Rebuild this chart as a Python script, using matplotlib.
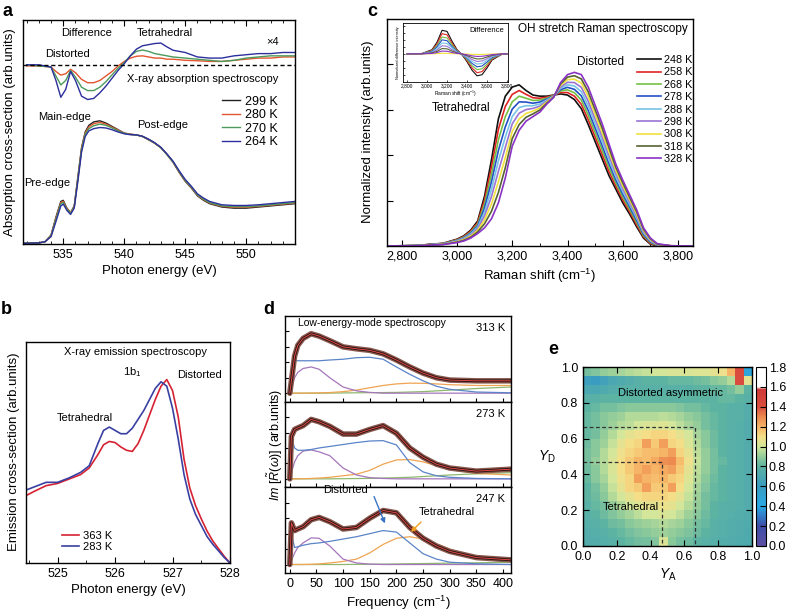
import numpy as np
import matplotlib
matplotlib.use('Agg')
import matplotlib.pyplot as plt
from matplotlib.colors import LinearSegmentedColormap
from matplotlib.ticker import MultipleLocator

plt.rcParams['font.family'] = ['Liberation Sans', 'DejaVu Sans']
plt.rcParams['font.size'] = 9
plt.rcParams['mathtext.fontset'] = 'custom'
plt.rcParams['mathtext.rm'] = 'Liberation Sans'
plt.rcParams['mathtext.it'] = 'Liberation Sans:italic'
plt.rcParams['axes.linewidth'] = 1.0

# ---- panel a: X-ray absorption ----
xas_energy = [531.7, 533.0, 533.5, 534.0, 534.4, 534.8, 535.0, 535.3, 535.6, 535.9,
              536.2, 536.5, 536.8, 537.1, 537.5, 538.0, 538.5,
              539.0, 539.5, 540.0, 540.5, 541.0, 541.5, 542.0, 542.5, 543.0, 543.5, 544.0, 544.5,
              545.0, 545.5, 546.0, 546.5, 547.0,
              548.0, 549.0, 550.0, 551.0, 552.0, 553.0, 554.0]
xas_299 = [0.003, 0.005, 0.01, 0.04, 0.12, 0.19, 0.195, 0.16, 0.14, 0.17,
           0.30, 0.43, 0.50, 0.53, 0.545, 0.55, 0.54,
           0.525, 0.51, 0.495, 0.49, 0.487, 0.48, 0.465, 0.45, 0.43, 0.40, 0.365, 0.32,
           0.28, 0.25, 0.215, 0.195, 0.18,
           0.165, 0.16, 0.16, 0.165, 0.17, 0.175, 0.18]
xas_280 = [0.003, 0.005, 0.01, 0.038, 0.115, 0.185, 0.19, 0.158, 0.14, 0.168,
           0.295, 0.425, 0.495, 0.523, 0.537, 0.543, 0.535,
           0.522, 0.508, 0.495, 0.49, 0.487, 0.48, 0.466, 0.45, 0.43, 0.40, 0.366, 0.322,
           0.282, 0.252, 0.218, 0.198, 0.183,
           0.168, 0.164, 0.164, 0.168, 0.173, 0.178, 0.183]
xas_270 = [0.003, 0.005, 0.01, 0.036, 0.11, 0.18, 0.185, 0.155, 0.138, 0.165,
           0.29, 0.42, 0.49, 0.515, 0.528, 0.535, 0.53,
           0.518, 0.505, 0.494, 0.489, 0.487, 0.48, 0.467, 0.451, 0.43, 0.40, 0.367, 0.324,
           0.284, 0.254, 0.22, 0.2, 0.185,
           0.17, 0.167, 0.167, 0.17, 0.175, 0.18, 0.185]
xas_264 = [0.003, 0.005, 0.01, 0.033, 0.1, 0.17, 0.178, 0.15, 0.132, 0.16,
           0.28, 0.41, 0.48, 0.505, 0.515, 0.52, 0.518,
           0.51, 0.50, 0.492, 0.488, 0.487, 0.481, 0.468, 0.452, 0.432, 0.402, 0.37, 0.327,
           0.288, 0.258, 0.224, 0.205, 0.19,
           0.175, 0.172, 0.172, 0.175, 0.18, 0.185, 0.19]

diff_energy = [532, 533, 534, 534.4, 534.8, 535.2, 535.6, 536.0,
               536.5, 537.0, 537.5, 538.0, 538.5, 539.0, 539.5,
               540.0, 540.5, 541.0, 541.5, 542.0, 542.5, 543.0, 543.5, 544.0,
               545, 546, 547, 548, 549, 550, 551, 552, 553, 554]
diff_280 = [-0.005, -0.005, -0.01, -0.03, -0.046, -0.04, -0.02, -0.035,
            -0.065, -0.08, -0.08, -0.07, -0.05, -0.03, -0.005,
            0.015, 0.03, 0.038, 0.04, 0.035, 0.03, 0.03, 0.025, 0.025,
            0.02, 0.018, 0.015, 0.015, 0.02, 0.025, 0.03, 0.03, 0.035, 0.035]
diff_270 = [0, -0.005, -0.01, -0.05, -0.09, -0.07, -0.025, -0.055,
            -0.1, -0.115, -0.115, -0.1, -0.075, -0.045, -0.015,
            0.01, 0.04, 0.06, 0.066, 0.06, 0.05, 0.045, 0.04, 0.035,
            0.03, 0.025, 0.02, 0.015, 0.02, 0.03, 0.035, 0.04, 0.04, 0.04]
diff_264 = [0, 0, -0.01, -0.07, -0.145, -0.11, -0.03, -0.07,
            -0.14, -0.155, -0.15, -0.125, -0.095, -0.06, -0.025,
            0.005, 0.04, 0.07, 0.085, 0.09, 0.095, 0.097, 0.08, 0.065,
            0.055, 0.035, 0.03, 0.03, 0.04, 0.045, 0.05, 0.05, 0.055, 0.055]
xas_labels = ['299 K', '280 K', '270 K', '264 K']
xas_colors = ['#222222', '#e2552e', '#4b9a5c', '#2c2f9c']

# ---- panel b: X-ray emission ----
xes_energy = [524.45, 524.6, 524.8, 525.0, 525.2, 525.4, 525.55, 525.7, 525.8, 525.9,
              526.0, 526.1, 526.2, 526.3, 526.4, 526.5, 526.6, 526.7, 526.8, 526.9,
              527.0, 527.1, 527.2, 527.3, 527.4, 527.5, 527.6, 527.7, 527.8, 527.9, 528.0]
xes_283 = [0.33, 0.345, 0.365, 0.365, 0.385, 0.41, 0.44, 0.54, 0.60, 0.615,
           0.60, 0.585, 0.585, 0.61, 0.65, 0.69, 0.74, 0.79, 0.82, 0.80,
           0.70, 0.56, 0.40, 0.29, 0.22, 0.17, 0.12, 0.085, 0.055, 0.025, 0.0]
xes_363 = [0.305, 0.325, 0.35, 0.36, 0.38, 0.40, 0.43, 0.49, 0.535, 0.55,
           0.545, 0.525, 0.51, 0.505, 0.54, 0.60, 0.67, 0.74, 0.80, 0.83,
           0.78, 0.66, 0.47, 0.34, 0.26, 0.20, 0.145, 0.10, 0.065, 0.03, 0.0]

# ---- panel c: OH stretch Raman ----
raman_shift = [2750, 2850, 2950, 3000, 3025, 3050, 3075, 3100, 3125, 3150,
               3175, 3200, 3225, 3250, 3275, 3300, 3325, 3350, 3375, 3400,
               3425, 3450, 3475, 3500, 3525, 3550, 3575, 3600, 3625, 3650,
               3675, 3700, 3725, 3775, 3850]
raman_temps = ['248 K', '258 K', '268 K', '278 K', '288 K', '298 K', '308 K', '318 K', '328 K']
raman_colors = ['#111111', '#e02424', '#74c044', '#2350c6', '#78c4e6', '#9a74d4',
                '#f0e23c', '#566232', '#8a32c6']
r248 = [0, .002, .012, .03, .045, .07, .11, .22, .38, .56,
        .66, .70, .71, .685, .665, .66, .66, .665, .67, .665,
        .645, .605, .535, .46, .385, .31, .25, .19, .14, .085,
        .035, .008, .001, 0, 0]
r258 = [0, .002, .011, .028, .042, .066, .103, .203, .348, .514,
        .615, .668, .685, .668, .653, .651, .656, .664, .676, .676,
        .66, .624, .556, .48, .404, .328, .264, .203, .151, .094,
        .041, .011, .002, 0, 0]
r268 = [0, .002, .0105, .026, .039, .061, .096, .185, .315, .468,
        .57, .635, .66, .651, .641, .643, .651, .663, .683, .688,
        .675, .643, .576, .50, .424, .345, .278, .215, .161, .104,
        .046, .015, .003, 0, 0]
r278 = [0, .002, .0098, .024, .036, .057, .089, .168, .283, .421,
        .525, .603, .635, .634, .629, .634, .647, .661, .689, .699,
        .69, .661, .597, .52, .443, .363, .291, .228, .172, .113,
        .052, .018, .004, 0, 0]
r288 = [0, .001, .009, .0225, .034, .053, .083, .15, .25, .375,
        .48, .57, .61, .618, .618, .625, .643, .66, .695, .71,
        .705, .68, .618, .54, .463, .38, .305, .24, .183, .123,
        .058, .022, .005, 0, 0]
r298 = [0, .001, .0083, .021, .031, .048, .076, .133, .218, .329,
        .435, .538, .585, .601, .606, .616, .638, .659, .701, .721,
        .72, .699, .638, .56, .482, .398, .319, .253, .193, .132,
        .063, .025, .006, .001, 0]
r308 = [0, .001, .0075, .019, .028, .044, .069, .115, .185, .283,
        .39, .505, .56, .584, .594, .608, .634, .658, .708, .733,
        .735, .718, .659, .58, .501, .415, .333, .265, .204, .141,
        .069, .028, .007, .001, 0]
r318 = [0, .001, .0068, .017, .025, .039, .062, .098, .153, .236,
        .345, .473, .535, .567, .582, .599, .629, .656, .714, .744,
        .75, .736, .679, .60, .521, .433, .346, .278, .214, .151,
        .074, .032, .008, .001, 0]
r328 = [0, .001, .006, .015, .022, .035, .055, .08, .12, .19,
        .30, .44, .51, .55, .57, .59, .625, .655, .72, .755,
        .765, .755, .70, .62, .54, .45, .36, .29, .225, .16,
        .08, .035, .01, .001, 0]

# inset: difference spectra
inset_shift = [2800, 2950, 3050, 3100, 3150, 3200, 3250, 3300, 3350, 3400, 3450, 3500, 3550, 3600, 3650, 3750, 3800]
d248 = [0, 0.015, 0.15, 0.42, 0.84, 0.80, 0.45, 0.15, -0.03, -0.28, -0.58, -0.78, -0.74, -0.50, -0.22, -0.01, 0]
d258 = [0, 0.013, 0.13, 0.36, 0.72, 0.68, 0.38, 0.13, -0.03, -0.24, -0.50, -0.67, -0.63, -0.43, -0.19, -0.01, 0]
d268 = [0, 0.011, 0.11, 0.30, 0.60, 0.57, 0.32, 0.11, -0.02, -0.20, -0.42, -0.56, -0.53, -0.36, -0.16, -0.01, 0]
d278 = [0, 0.009, 0.09, 0.25, 0.50, 0.47, 0.26, 0.09, -0.02, -0.16, -0.34, -0.46, -0.43, -0.29, -0.13, -0.005, 0]
d288 = [0, 0.007, 0.07, 0.19, 0.39, 0.37, 0.21, 0.07, -0.015, -0.13, -0.27, -0.36, -0.34, -0.23, -0.10, -0.005, 0]
d298 = [0, 0.005, 0.05, 0.14, 0.29, 0.27, 0.15, 0.05, -0.01, -0.09, -0.20, -0.27, -0.25, -0.17, -0.07, 0, 0]
d308 = [0, 0.001, 0.005, 0.01, 0.02, 0.02, 0.01, 0.005, 0, -0.005, -0.015, -0.02, -0.02, -0.01, -0.005, 0, 0]
d318 = [0, 0.003, 0.035, 0.09, 0.19, 0.18, 0.10, 0.035, -0.005, -0.06, -0.13, -0.18, -0.17, -0.11, -0.05, 0, 0]
d328 = [0, 0.002, 0.018, 0.05, 0.10, 0.095, 0.05, 0.018, 0, -0.03, -0.07, -0.09, -0.085, -0.06, -0.025, 0, 0]

# ---- panel d: low-energy modes (3 temperatures) ----
freq = [0, 3, 9, 15, 25, 40, 55, 75, 100, 125, 150, 175, 200, 225, 250, 275, 300, 350, 415]
tot_313 = [0, 0.16, 0.48, 0.62, 0.71, 0.77, 0.74, 0.68, 0.60, 0.575, 0.555, 0.51, 0.43, 0.34, 0.26, 0.20, 0.17, 0.16, 0.16]
blue_313 = [0, 0.2, 0.43, 0.42, 0.42, 0.42, 0.42, 0.43, 0.44, 0.46, 0.465, 0.44, 0.34, 0.245, 0.16, 0.09, 0.05, 0.015, 0.005]
purp_313 = [0, 0.06, 0.2, 0.27, 0.32, 0.34, 0.31, 0.2, 0.08, 0.03, 0.01, 0, 0, 0, 0, 0, 0, 0, 0]
orng_313 = [0, 0, 0, 0, 0, 0.002, 0.004, 0.008, 0.02, 0.04, 0.07, 0.1, 0.12, 0.13, 0.128, 0.12, 0.11, 0.1, 0.1]
gren_313 = [0, 0, 0, 0, 0, 0, 0, 0.001, 0.003, 0.005, 0.007, 0.008, 0.01, 0.015, 0.02, 0.03, 0.04, 0.06, 0.08]

tot_273 = [0, 0.55, 0.64, 0.66, 0.69, 0.77, 0.74, 0.68, 0.58, 0.58, 0.64, 0.69, 0.59, 0.40, 0.28, 0.19, 0.14, 0.10, 0.125]
blue_273 = [0, 0.53, 0.4, 0.37, 0.37, 0.38, 0.40, 0.42, 0.445, 0.47, 0.49, 0.495, 0.44, 0.21, 0.09, 0.04, 0.02, 0.005, 0]
purp_273 = [0, 0.08, 0.22, 0.3, 0.36, 0.375, 0.35, 0.3, 0.14, 0.05, 0.015, 0.005, 0, 0, 0, 0, 0, 0, 0]
orng_273 = [0, 0, 0, 0, 0.002, 0.005, 0.01, 0.02, 0.04, 0.06, 0.11, 0.19, 0.245, 0.25, 0.22, 0.17, 0.12, 0.07, 0.05]
gren_273 = [0, 0, 0, 0, 0, 0, 0, 0, 0.002, 0.004, 0.006, 0.01, 0.015, 0.02, 0.03, 0.04, 0.05, 0.065, 0.08]

tot_247 = [0, 0.54, 0.44, 0.46, 0.49, 0.58, 0.61, 0.555, 0.46, 0.48, 0.60, 0.70, 0.67, 0.48, 0.34, 0.24, 0.17, 0.09, 0.06]
blue_247 = [0, 0.4, 0.22, 0.23, 0.25, 0.27, 0.28, 0.30, 0.33, 0.36, 0.40, 0.44, 0.42, 0.28, 0.14, 0.07, 0.03, 0.01, 0]
purp_247 = [0, 0.05, 0.15, 0.22, 0.28, 0.345, 0.34, 0.24, 0.07, 0.02, 0.005, 0, 0, 0, 0, 0, 0, 0, 0]
orng_247 = [0, 0, 0, 0, 0, 0.003, 0.008, 0.02, 0.04, 0.07, 0.15, 0.26, 0.34, 0.36, 0.33, 0.27, 0.2, 0.1, 0.05]
gren_247 = [0, 0, 0, 0, 0, 0, 0, 0, 0, 0.002, 0.003, 0.005, 0.007, 0.01, 0.012, 0.015, 0.018, 0.022, 0.03]

# ---- panel e: 2D map, rows listed from Y_D = 1.0 (top) down to 0.0 ----
map_rows_top_down = [
    [0.85, 0.87, 0.9, 0.92, 0.93, 0.95, 0.97, 0.98, 1.0, 1.0, 1.02, 1.02, 1.02, 1.03, 1.03, 1.05, 1.08, 1.2, 1.42, 0.45],
    [0.62, 0.6, 0.65, 0.7, 0.72, 0.75, 0.78, 0.8, 0.8, 0.8, 0.82, 0.82, 0.82, 0.83, 0.85, 0.88, 0.9, 0.95, 1.4, 1.05],
    [0.7, 0.7, 0.72, 0.75, 0.77, 0.78, 0.78, 0.78, 0.78, 0.78, 0.78, 0.78, 0.78, 0.8, 0.8, 0.82, 0.82, 0.85, 0.9, 0.8],
    [0.78, 0.78, 0.8, 0.8, 0.8, 0.8, 0.8, 0.8, 0.8, 0.8, 0.8, 0.8, 0.8, 0.8, 0.8, 0.8, 0.82, 0.82, 0.8, 0.78],
    [0.8, 0.82, 0.85, 0.85, 0.87, 0.88, 0.88, 0.88, 0.88, 0.88, 0.88, 0.87, 0.85, 0.85, 0.82, 0.8, 0.8, 0.78, 0.78, 0.75],
    [0.82, 0.85, 0.88, 0.9, 0.92, 0.95, 0.95, 0.95, 0.95, 0.97, 0.95, 0.93, 0.9, 0.88, 0.85, 0.82, 0.8, 0.78, 0.78, 0.75],
    [0.82, 0.85, 0.88, 0.92, 0.95, 0.97, 1.0, 1.02, 1.02, 1.03, 1.0, 0.97, 0.93, 0.9, 0.85, 0.82, 0.8, 0.78, 0.76, 0.74],
    [0.82, 0.85, 0.9, 0.95, 1.0, 1.05, 1.08, 1.1, 1.12, 1.12, 1.1, 1.05, 1.0, 0.93, 0.88, 0.83, 0.8, 0.78, 0.76, 0.74],
    [0.83, 0.88, 0.92, 0.98, 1.05, 1.1, 1.12, 1.25, 1.15, 1.25, 1.12, 1.1, 1.02, 0.95, 0.88, 0.83, 0.8, 0.78, 0.76, 0.74],
    [0.85, 0.88, 0.95, 1.0, 1.08, 1.12, 1.15, 1.18, 1.18, 1.2, 1.25, 1.12, 1.05, 0.97, 0.9, 0.85, 0.8, 0.78, 0.76, 0.74],
    [0.85, 0.9, 0.95, 1.02, 1.1, 1.15, 1.2, 1.18, 1.22, 1.28, 1.3, 1.18, 1.08, 0.98, 0.9, 0.85, 0.82, 0.78, 0.76, 0.74],
    [0.83, 0.88, 0.95, 1.02, 1.1, 1.15, 1.2, 1.25, 1.2, 1.22, 1.25, 1.15, 1.05, 0.97, 0.9, 0.85, 0.8, 0.78, 0.76, 0.74],
    [0.82, 0.88, 0.93, 1.0, 1.08, 1.12, 1.25, 1.2, 1.18, 1.2, 1.15, 1.12, 1.03, 0.95, 0.88, 0.83, 0.8, 0.78, 0.76, 0.74],
    [0.8, 0.85, 0.9, 0.98, 1.05, 1.12, 1.15, 1.25, 1.15, 1.15, 1.25, 1.1, 1.0, 0.93, 0.87, 0.82, 0.8, 0.78, 0.76, 0.74],
    [0.8, 0.83, 0.88, 0.95, 1.0, 1.05, 1.1, 1.12, 1.12, 1.12, 1.1, 1.05, 0.98, 0.92, 0.85, 0.82, 0.8, 0.78, 0.76, 0.74],
    [0.78, 0.82, 0.85, 0.9, 0.95, 1.0, 1.03, 1.05, 1.05, 1.07, 1.05, 1.0, 0.95, 0.9, 0.85, 0.8, 0.78, 0.77, 0.76, 0.74],
    [0.78, 0.8, 0.83, 0.87, 0.9, 0.93, 0.97, 1.0, 1.0, 1.02, 1.0, 0.97, 0.92, 0.88, 0.83, 0.8, 0.78, 0.76, 0.75, 0.74],
    [0.76, 0.78, 0.8, 0.83, 0.85, 0.88, 0.9, 0.92, 0.93, 0.95, 0.93, 0.92, 0.88, 0.85, 0.82, 0.78, 0.76, 0.75, 0.74, 0.73],
    [0.75, 0.76, 0.78, 0.8, 0.82, 0.85, 0.87, 0.88, 0.9, 0.92, 0.9, 0.88, 0.86, 0.83, 0.8, 0.78, 0.76, 0.75, 0.74, 0.72],
    [0.74, 0.75, 0.76, 0.78, 0.8, 0.82, 0.84, 0.85, 0.87, 1.02, 0.88, 0.85, 0.83, 0.8, 0.78, 0.76, 0.75, 0.74, 0.73, 0.72],
]
tetra_edge = 0.465
outer_edge = 0.665

W, H = 788, 611
fig = plt.figure(figsize=(W / 100, H / 100), dpi=100)


def box(l, t, r, b):
    # pixel box -> figure fraction
    return [l / W, 1 - b / H, (r - l) / W, (b - t) / H]


def ftext(x, y, s, **kw):
    kw.setdefault('ha', 'center')
    kw.setdefault('va', 'center')
    fig.text(x / W, 1 - y / H, s, **kw)


# panel a
ax = fig.add_axes(box(23, 20, 295, 244))
for lab, ys, c in zip(xas_labels, [xas_299, xas_280, xas_270, xas_264], xas_colors):
    ax.plot(xas_energy, ys, color=c, lw=1.0, label=lab)
for ys, c in zip([diff_280, diff_270, diff_264], xas_colors[1:]):
    ax.plot(diff_energy, np.array(ys) + 0.8, color=c, lw=1.0)
ax.axhline(0.8, color='k', lw=1.0, ls=(0, (3, 2)))
ax.set_xlim(531.7, 554)
ax.set_ylim(0, 1)
ax.set_yticks([])
ax.xaxis.set_major_locator(MultipleLocator(5))
ax.xaxis.set_minor_locator(MultipleLocator(1))
ax.tick_params(which='both', direction='in', top=True)
ax.tick_params(which='major', length=4)
ax.tick_params(which='minor', length=2.5)
ax.set_xlabel('Photon energy (eV)', fontsize=9.5, labelpad=3)
ax.legend(loc='upper left', bbox_to_anchor=(0.71, 0.69), frameon=False, fontsize=9,
          handlelength=1.4, handletextpad=0.4, labelspacing=0.12, borderpad=0)
ftext(10, 132, 'Absorption cross-section (arb.units)', rotation=90, fontsize=9.5)
ftext(87, 33, 'Difference', fontsize=8)
ftext(165, 33, 'Tetrahedral', fontsize=8)
ftext(273, 42, '\u00d74', fontsize=8)
ftext(67, 54, 'Distorted', fontsize=8)
ftext(203, 79, 'X-ray absorption spectroscopy', fontsize=8)
ftext(65, 117, 'Main-edge', fontsize=8)
ftext(163, 125, 'Post-edge', fontsize=8)
ftext(47, 183, 'Pre-edge', fontsize=8)
ftext(8, 11, 'a', fontsize=13, fontweight='bold')

# panel b
ax = fig.add_axes(box(26, 342, 230, 563))
ax.plot(xes_energy, xes_363, color='#d62232', lw=1.2, label='363 K')
ax.plot(xes_energy, xes_283, color='#3a40a2', lw=1.2, label='283 K')
ax.set_xlim(524.45, 528)
ax.set_ylim(0, 1)
ax.set_yticks([])
ax.xaxis.set_major_locator(MultipleLocator(1))
ax.xaxis.set_minor_locator(MultipleLocator(0.5))
ax.tick_params(which='both', direction='in')
ax.tick_params(which='major', length=4)
ax.tick_params(which='minor', length=2.5)
ax.set_xlabel('Photon energy (eV)', fontsize=9.5, labelpad=3)
ax.legend(loc='upper left', bbox_to_anchor=(0.15, 0.17), frameon=False, fontsize=8,
          handlelength=1.5, handletextpad=0.4, labelspacing=0.1, borderpad=0)
ftext(14, 452, 'Emission cross-section (arb.units)', rotation=90, fontsize=9.5)
ftext(135, 352, 'X-ray emission spectroscopy', fontsize=8)
ftext(132, 372, '1b$_1$', fontsize=8)
ftext(199, 375, 'Distorted', fontsize=8)
ftext(85, 418, 'Tetrahedral', fontsize=8)
ftext(6, 309, 'b', fontsize=13, fontweight='bold')

# panel c
ax = fig.add_axes(box(387, 19, 693, 246))
raman_rows = [r248, r258, r268, r278, r288, r298, r308, r318, r328]
for lab, ys, c in zip(raman_temps, raman_rows, raman_colors):
    ax.plot(raman_shift, ys, color=c, lw=1.2, label=lab)
ax.set_xlim(2747, 3854)
ax.set_ylim(0, 1)
ax.set_yticks([0.2, 0.4, 0.6, 0.8])
ax.set_yticklabels([])
ax.set_xticks([2800, 3000, 3200, 3400, 3600, 3800])
ax.set_xticklabels(['2,800', '3,000', '3,200', '3,400', '3,600', '3,800'])
ax.xaxis.set_minor_locator(MultipleLocator(100))
ax.tick_params(which='both', direction='in')
ax.tick_params(which='major', length=4)
ax.tick_params(which='minor', length=2.5)
ax.set_xlabel('Raman shift (cm$^{-1}$)', fontsize=9.5, labelpad=3)
ax.legend(loc='upper left', bbox_to_anchor=(0.80, 0.865), frameon=False, fontsize=7.8,
          handlelength=2.2, handletextpad=0.3, labelspacing=0.22, borderpad=0)
ftext(368, 132, 'Normalized intensity (arb.units)', rotation=90, fontsize=9.5)
ftext(603, 29, 'OH stretch Raman spectroscopy', fontsize=8.5)
ftext(600, 62, 'Distorted', fontsize=8.5)
ftext(461, 108, 'Tetrahedral', fontsize=8.5)
ftext(372, 11, 'c', fontsize=13, fontweight='bold')

# inset of c
ins = fig.add_axes(box(403, 23, 508, 82))
inset_rows = [d248, d258, d268, d278, d288, d298, d308, d318, d328]
for ys, c in zip(inset_rows, raman_colors):
    ins.plot(inset_shift, ys, color=c, lw=0.8)
ins.set_xlim(2759, 3810)
ins.set_ylim(-1.0, 1.1)
ins.set_xticks([2800, 3000, 3200, 3400, 3600, 3800])
ins.set_xticklabels(['2,800', '3,000', '3,200', '3,400', '3,600', '3,800'])
ins.set_yticks([-0.75, -0.5, -0.25, 0, 0.25, 0.5, 0.75, 1.0])
ins.set_yticklabels([])
ins.tick_params(direction='in', labelsize=3.5, length=1.5, width=0.5, pad=1)
for s in ins.spines.values():
    s.set_linewidth(0.6)
ins.set_xlabel('Raman shift (cm$^{-1}$)', fontsize=3.5, labelpad=0.5)
ins.set_ylabel('Normalized difference intensity', fontsize=2.8, labelpad=1)
ins.text(0.96, 0.88, 'Difference', transform=ins.transAxes, ha='right', va='center', fontsize=5.5)

# panel d: three stacked panels
d_sets = [
    ('313 K', tot_313, blue_313, purp_313, orng_313, gren_313),
    ('273 K', tot_273, blue_273, purp_273, orng_273, gren_273),
    ('247 K', tot_247, blue_247, purp_247, orng_247, gren_247),
]
d_top, d_bot = 316, 573
d_h = (d_bot - d_top) / 3
d_axes = []
for i, (lab, tot, bl, pu, orr, gr) in enumerate(d_sets):
    t = d_top + i * d_h
    ax = fig.add_axes(box(285, t, 511, t + d_h))
    ax.plot(freq, gr, color='#8fb86e', lw=0.9)
    ax.plot(freq, orr, color='#f0a452', lw=0.9)
    ax.plot(freq, pu, color='#a576bb', lw=0.9)
    ax.plot(freq, bl, color='#5a84c8', lw=0.9)
    ax.plot(freq, tot, color='#8a5a50', lw=4.0, solid_capstyle='round')
    ax.plot(freq, tot, color='#2a1410', lw=2.0)
    ax.plot(freq, tot, color='#e04848', lw=0.7)
    ax.set_xlim(-9, 415)
    ax.set_ylim(-0.11, 1.0)
    ax.set_yticks([0, 0.2, 0.4, 0.6, 0.8])
    ax.set_yticklabels([])
    ax.xaxis.set_major_locator(MultipleLocator(50))
    ax.tick_params(which='both', direction='in', length=3)
    if i < 2:
        ax.set_xticklabels([])
    ax.text(0.975, 0.86, lab, transform=ax.transAxes, ha='right', va='center', fontsize=8)
    d_axes.append(ax)
d_axes[-1].set_xlabel('Frequency (cm$^{-1}$)', fontsize=9.5, labelpad=3)
ftext(372, 323, 'Low-energy-mode spectroscopy', fontsize=7.5)
ftext(275, 445, r'$Im\ [\tilde{R}(\omega)]$ (arb.units)', rotation=90, fontsize=9)
ftext(345, 490, 'Distorted', fontsize=8)
ftext(447, 512, 'Tetrahedral', fontsize=8)
fig.patches.append(matplotlib.patches.FancyArrowPatch(
    (373 / W, 1 - 494 / H), (386 / W, 1 - 526 / H), transform=fig.transFigure,
    arrowstyle='-|>', mutation_scale=7, color='#3a72c4', lw=1.0))
fig.patches.append(matplotlib.patches.FancyArrowPatch(
    (423 / W, 1 - 520 / H), (409 / W, 1 - 534 / H), transform=fig.transFigure,
    arrowstyle='-|>', mutation_scale=7, color='#f0a020', lw=1.0))
ftext(269, 309, 'd', fontsize=13, fontweight='bold')

# panel e
anchors = [(0.0, '#5e4fa2'), (0.2, '#3d4ea8'), (0.4, '#2aa9e6'), (0.6, '#3a9cc0'),
           (0.8, '#5db3a2'), (0.9, '#93cc9a'), (1.0, '#d2e69a'), (1.1, '#f5df88'),
           (1.2, '#f6b466'), (1.3, '#ec8a50'), (1.4, '#da4e3e'), (1.58, '#d03a38'),
           (1.6, '#ffffff'), (1.8, '#ffffff')]
cmap = LinearSegmentedColormap.from_list('spec', [(v / 1.8, c) for v, c in anchors])
grid = np.array(map_rows_top_down)[::-1]
edges = np.linspace(0, 1, grid.shape[0] + 1)
ax = fig.add_axes(box(583, 367, 752, 546))
mesh = ax.pcolormesh(edges, edges, grid, cmap=cmap, vmin=0, vmax=1.8)
ax.plot([0, tetra_edge, tetra_edge], [tetra_edge + 0.005, tetra_edge + 0.005, 0], color='#333333', lw=0.9, ls=(0, (3, 2)))
ax.plot([0, outer_edge, outer_edge], [outer_edge, outer_edge, 0], color='#333333', lw=0.9, ls=(0, (3, 2)))
ax.set_xlim(0, 1)
ax.set_ylim(0, 1)
ax.set_xticks([0, 0.2, 0.4, 0.6, 0.8, 1.0])
ax.set_yticks([0, 0.2, 0.4, 0.6, 0.8, 1.0])
ax.tick_params(direction='in', top=True, right=True, length=4)
ax.text(0.52, 0.855, 'Distorted asymmetric', ha='center', va='center', fontsize=8)
ax.text(0.28, 0.22, 'Tetrahedral', ha='center', va='center', fontsize=8)
ax.set_xlabel('$Y_\\mathrm{A}$', fontsize=10, labelpad=3)
ax.set_ylabel('$Y_\\mathrm{D}$', fontsize=10, rotation=0, labelpad=10, va='center')
cax = fig.add_axes(box(756, 367, 766, 546))
cb = fig.colorbar(mesh, cax=cax, ticks=[0, 0.2, 0.4, 0.6, 0.8, 1.0, 1.2, 1.4, 1.6, 1.8])
cb.ax.tick_params(direction='in', length=4, labelsize=9, pad=2)
cb.outline.set_linewidth(0.8)
ftext(553, 350, 'e', fontsize=13, fontweight='bold')

fig.savefig('out.png', dpi=100)
